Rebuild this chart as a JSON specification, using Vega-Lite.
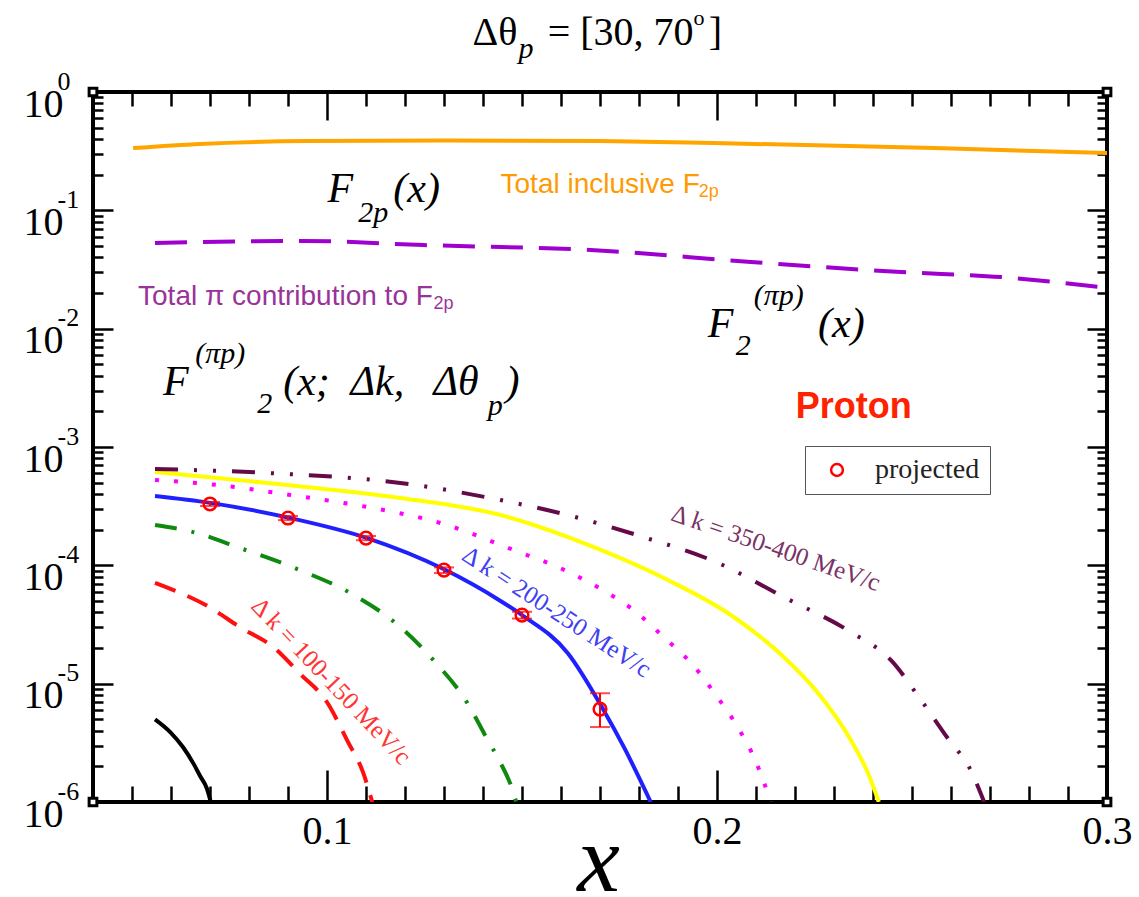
{
  "$schema": "https://vega.github.io/schema/vega-lite/v6.json",
  "width": 1014,
  "height": 710,
  "autosize": {"type": "none"},
  "padding": {"left": 93, "top": 92, "right": 32, "bottom": 95},
  "background": "white",
  "config": {
    "view": {"stroke": "black", "strokeWidth": 4},
    "axis": {"grid": false, "domain": false, "tickColor": "black", "tickWidth": 2.5, "labelColor": "black", "labelOverlap": false, "labelFlush": false, "labelBound": false}
  },
  "resolve": {"axis": {"x": "independent", "y": "independent"}},
  "datasets": {
    "corners": [{"x": 0.04, "y": 0.000001}, {"x": 0.04, "y": 1}, {"x": 0.3, "y": 0.000001}, {"x": 0.3, "y": 1}],
    "orange": [{"x": 0.0503, "y": 0.336}, {"x": 0.0675, "y": 0.364}, {"x": 0.095, "y": 0.385}, {"x": 0.13, "y": 0.39}, {"x": 0.17, "y": 0.385}, {"x": 0.199, "y": 0.371}, {"x": 0.2557, "y": 0.336}, {"x": 0.3, "y": 0.305}],
    "purple": [{"x": 0.0559, "y": 0.053}, {"x": 0.0939, "y": 0.0551}, {"x": 0.1247, "y": 0.0509}, {"x": 0.1676, "y": 0.0462}, {"x": 0.2087, "y": 0.0366}, {"x": 0.2472, "y": 0.0301}, {"x": 0.2729, "y": 0.0273}, {"x": 0.3, "y": 0.0221}],
    "black": [{"x": 0.0559, "y": 5.0e-6}, {"x": 0.0598, "y": 3.9e-6}, {"x": 0.0631, "y": 2.9e-6}, {"x": 0.0658, "y": 2.1e-6}, {"x": 0.0675, "y": 1.65e-6}, {"x": 0.0692, "y": 1.3e-6}, {"x": 0.0702, "y": 1.0e-6}],
    "red": [{"x": 0.0559, "y": 7.1e-5}, {"x": 0.070, "y": 4.4e-5}, {"x": 0.0777, "y": 3.0e-5}, {"x": 0.0862, "y": 2.04e-5}, {"x": 0.0931, "y": 1.21e-5}, {"x": 0.1001, "y": 6.9e-6}, {"x": 0.1052, "y": 3.3e-6}, {"x": 0.1093, "y": 1.76e-6}, {"x": 0.1116, "y": 1.0e-6}],
    "green": [{"x": 0.0559, "y": 2.19e-4}, {"x": 0.0657, "y": 1.91e-4}, {"x": 0.0777, "y": 1.40e-4}, {"x": 0.0931, "y": 9.1e-5}, {"x": 0.106, "y": 5.83e-5}, {"x": 0.1188, "y": 3.01e-5}, {"x": 0.1273, "y": 1.58e-5}, {"x": 0.136, "y": 6.85e-6}, {"x": 0.1412, "y": 3.34e-6}, {"x": 0.1445, "y": 2.14e-6}, {"x": 0.1478, "y": 1.2e-6}, {"x": 0.1485, "y": 1.0e-6}],
    "blue": [{"x": 0.0559, "y": 3.85e-4}, {"x": 0.070, "y": 3.37e-4}, {"x": 0.0906, "y": 2.51e-4}, {"x": 0.1103, "y": 1.70e-4}, {"x": 0.1299, "y": 9.3e-5}, {"x": 0.1445, "y": 5.0e-5}, {"x": 0.150, "y": 3.8e-5}, {"x": 0.1617, "y": 1.82e-5}, {"x": 0.1709, "y": 6.0e-6}, {"x": 0.1761, "y": 2.92e-6}, {"x": 0.183, "y": 1.0e-6}],
    "magenta": [{"x": 0.0559, "y": 5.26e-4}, {"x": 0.0718, "y": 4.78e-4}, {"x": 0.0906, "y": 3.93e-4}, {"x": 0.1103, "y": 3.11e-4}, {"x": 0.1291, "y": 2.28e-4}, {"x": 0.1478, "y": 1.35e-4}, {"x": 0.162, "y": 8.78e-5}, {"x": 0.1707, "y": 6.18e-5}, {"x": 0.1786, "y": 4.19e-5}, {"x": 0.1863, "y": 2.48e-5}, {"x": 0.1938, "y": 1.44e-5}, {"x": 0.1997, "y": 8.02e-6}, {"x": 0.2053, "y": 4.3e-6}, {"x": 0.21, "y": 2.18e-6}, {"x": 0.2138, "y": 1.0e-6}],
    "yellow": [{"x": 0.0559, "y": 6.15e-4}, {"x": 0.0847, "y": 4.97e-4}, {"x": 0.1188, "y": 3.71e-4}, {"x": 0.1445, "y": 2.66e-4}, {"x": 0.1702, "y": 1.35e-4}, {"x": 0.1874, "y": 7.52e-5}, {"x": 0.2043, "y": 3.66e-5}, {"x": 0.2171, "y": 1.68e-5}, {"x": 0.2259, "y": 8.34e-6}, {"x": 0.2343, "y": 3.34e-6}, {"x": 0.2387, "y": 1.76e-6}, {"x": 0.2415, "y": 1.0e-6}],
    "maroon": [{"x": 0.0559, "y": 6.52e-4}, {"x": 0.0847, "y": 6.03e-4}, {"x": 0.1188, "y": 4.97e-4}, {"x": 0.1445, "y": 3.56e-4}, {"x": 0.1617, "y": 2.66e-4}, {"x": 0.1812, "y": 1.73e-4}, {"x": 0.2002, "y": 1.05e-4}, {"x": 0.2171, "y": 5.4e-5}, {"x": 0.2343, "y": 2.73e-5}, {"x": 0.2446, "y": 1.58e-5}, {"x": 0.2523, "y": 7.27e-6}, {"x": 0.2595, "y": 3.34e-6}, {"x": 0.2646, "y": 1.98e-6}, {"x": 0.2685, "y": 1.0e-6}],
    "projected": [
      {"x": 0.07, "y": 3.30e-4, "lo": 3.17e-4, "hi": 3.43e-4, "s": "projected"},
      {"x": 0.09, "y": 2.51e-4, "lo": 2.41e-4, "hi": 2.61e-4, "s": "projected"},
      {"x": 0.11, "y": 1.70e-4, "lo": 1.63e-4, "hi": 1.77e-4, "s": "projected"},
      {"x": 0.13, "y": 9.1e-5, "lo": 8.6e-5, "hi": 9.6e-5, "s": "projected"},
      {"x": 0.15, "y": 3.8e-5, "lo": 3.55e-5, "hi": 4.05e-5, "s": "projected"},
      {"x": 0.17, "y": 6.1e-6, "lo": 4.3e-6, "hi": 8.3e-6, "s": "projected"}
    ],
    "italicBig": [
      {"x": 0.1001, "y": 0.1176, "t": "F"}, {"x": 0.1170, "y": 0.1176, "t": "(x)"},
      {"x": 0.1976, "y": 0.008502, "t": "F"}, {"x": 0.2259, "y": 0.008502, "t": "(x)"},
      {"x": 0.05797, "y": 0.00275, "t": "F"}, {"x": 0.08878, "y": 0.00275, "t": "(x;"}, {"x": 0.1060, "y": 0.00275, "t": "Δk,"}, {"x": 0.1273, "y": 0.00275, "t": "Δθ"}, {"x": 0.1458, "y": 0.00275, "t": ")"}
    ],
    "italicSmall": [
      {"x": 0.1080, "y": 0.0797, "t": "2p"}, {"x": 0.2048, "y": 0.00599, "t": "2"}, {"x": 0.2094, "y": 0.01585, "t": "(πp)"},
      {"x": 0.06619, "y": 0.005126, "t": "(πp)"}, {"x": 0.08211, "y": 0.001938, "t": "2"}, {"x": 0.1412, "y": 0.001864, "t": "p"}
    ],
    "titleMain": [{"x": 0.1373, "y": 2.496, "t": "Δθ"}, {"x": 0.1566, "y": 2.496, "t": "= [30, 70"}, {"x": 0.1979, "y": 2.496, "t": "]"}],
    "titleSub": [{"x": 0.1491, "y": 1.937, "t": "p"}],
    "titleSup": [{"x": 0.1940, "y": 3.683, "t": "o"}],
    "orangeText": [{"x": 0.1445, "y": 0.1401, "t": "Total inclusive F"}],
    "orangeSub": [{"x": 0.1953, "y": 0.1296, "t": "2p"}],
    "purpleText": [{"x": 0.05155, "y": 0.01585, "t": "Total π contribution to F"}],
    "purpleSub": [{"x": 0.1273, "y": 0.01466, "t": "2p"}],
    "proton": [{"x": 0.2202, "y": 0.001758, "t": "Proton"}],
    "labRed": [{"x": 0.1011, "y": 1.052e-5, "t": "Δ k = 100-150 MeV/c"}],
    "labBlue": [{"x": 0.1589, "y": 4.03e-5, "t": "Δ k = 200-250 MeV/c"}],
    "labMaroon": [{"x": 0.2151, "y": 1.40e-4, "t": "Δ k = 350-400 MeV/c"}]
  },
  "layer": [
    {
      "data": {"name": "corners"},
      "mark": {"type": "point", "opacity": 0},
      "encoding": {
        "x": {"field": "x", "type": "quantitative", "scale": {"type": "linear", "domain": [0.04, 0.3], "nice": false, "zero": false},
          "axis": {"orient": "bottom", "values": [0.1, 0.2, 0.3], "ticks": true, "tickSize": -32, "labels": false, "title": null}},
        "y": {"field": "y", "type": "quantitative", "scale": {"type": "log", "domain": [0.000001, 1], "nice": false},
          "axis": {"orient": "left", "values": [0.000001, 0.00001, 0.0001, 0.001, 0.01, 0.1, 1], "ticks": true, "tickSize": -20, "labels": false, "title": null}}
      }
    },
    {
      "data": {"name": "corners"},
      "mark": {"type": "point", "opacity": 0},
      "encoding": {
        "x": {"field": "x", "type": "quantitative", "scale": {"type": "linear", "domain": [0.04, 0.3], "nice": false, "zero": false},
          "axis": {"orient": "bottom", "values": [0.05, 0.06, 0.07, 0.08, 0.09, 0.11, 0.12, 0.13, 0.14, 0.15, 0.16, 0.17, 0.18, 0.19, 0.21, 0.22, 0.23, 0.24, 0.25, 0.26, 0.27, 0.28, 0.29], "ticks": true, "tickSize": -16, "labels": false, "title": null}},
        "y": {"field": "y", "type": "quantitative", "scale": {"type": "log", "domain": [0.000001, 1], "nice": false},
          "axis": {"orient": "left", "values": [2e-6, 3e-6, 4e-6, 5e-6, 6e-6, 7e-6, 8e-6, 9e-6, 2e-5, 3e-5, 4e-5, 5e-5, 6e-5, 7e-5, 8e-5, 9e-5, 2e-4, 3e-4, 4e-4, 5e-4, 6e-4, 7e-4, 8e-4, 9e-4, 0.002, 0.003, 0.004, 0.005, 0.006, 0.007, 0.008, 0.009, 0.02, 0.03, 0.04, 0.05, 0.06, 0.07, 0.08, 0.09, 0.2, 0.3, 0.4, 0.5, 0.6, 0.7, 0.8, 0.9], "ticks": true, "tickSize": -10, "labels": false, "title": null}}
      }
    },
    {
      "data": {"name": "corners"},
      "mark": {"type": "point", "opacity": 0},
      "encoding": {
        "x": {"field": "x", "type": "quantitative", "scale": {"type": "linear", "domain": [0.04, 0.3], "nice": false, "zero": false},
          "axis": {"orient": "top", "values": [0.1, 0.2, 0.3], "ticks": true, "tickSize": -28, "labels": false, "title": null}},
        "y": {"field": "y", "type": "quantitative", "scale": {"type": "log", "domain": [0.000001, 1], "nice": false},
          "axis": {"orient": "right", "values": [0.000001, 0.00001, 0.0001, 0.001, 0.01, 0.1, 1], "ticks": true, "tickSize": -20, "labels": false, "title": null}}
      }
    },
    {
      "data": {"name": "corners"},
      "mark": {"type": "point", "opacity": 0},
      "encoding": {
        "x": {"field": "x", "type": "quantitative", "scale": {"type": "linear", "domain": [0.04, 0.3], "nice": false, "zero": false},
          "axis": {"orient": "top", "values": [0.05, 0.06, 0.07, 0.08, 0.09, 0.11, 0.12, 0.13, 0.14, 0.15, 0.16, 0.17, 0.18, 0.19, 0.21, 0.22, 0.23, 0.24, 0.25, 0.26, 0.27, 0.28, 0.29], "ticks": true, "tickSize": -14, "labels": false, "title": null}},
        "y": {"field": "y", "type": "quantitative", "scale": {"type": "log", "domain": [0.000001, 1], "nice": false},
          "axis": {"orient": "right", "values": [2e-6, 3e-6, 4e-6, 5e-6, 6e-6, 7e-6, 8e-6, 9e-6, 2e-5, 3e-5, 4e-5, 5e-5, 6e-5, 7e-5, 8e-5, 9e-5, 2e-4, 3e-4, 4e-4, 5e-4, 6e-4, 7e-4, 8e-4, 9e-4, 0.002, 0.003, 0.004, 0.005, 0.006, 0.007, 0.008, 0.009, 0.02, 0.03, 0.04, 0.05, 0.06, 0.07, 0.08, 0.09, 0.2, 0.3, 0.4, 0.5, 0.6, 0.7, 0.8, 0.9], "ticks": true, "tickSize": -10, "labels": false, "title": null}}
      }
    },
    {
      "data": {"name": "corners"},
      "mark": {"type": "point", "opacity": 0},
      "encoding": {
        "x": {"field": "x", "type": "quantitative", "scale": {"type": "linear", "domain": [0.04, 0.3], "nice": false, "zero": false},
          "axis": {"orient": "bottom", "values": [0.1, 0.2, 0.3], "ticks": false, "labelExpr": "format(datum.value, '.1f')", "labelFont": "Liberation Serif", "labelFontSize": 40, "labelPadding": 9,
            "title": "x", "titleFont": "Liberation Serif", "titleFontStyle": "italic", "titleFontWeight": "normal", "titleFontSize": 96, "titleColor": "black", "titleX": 505, "titleY": 88, "titleBaseline": "alphabetic", "titleAlign": "center", "titleAnchor": null}},
        "y": {"field": "y", "type": "quantitative", "scale": {"type": "log", "domain": [0.000001, 1], "nice": false},
          "axis": {"orient": "left", "values": [0.000001, 0.00001, 0.0001, 0.001, 0.01, 0.1, 1], "ticks": false, "labelExpr": "datum.value >= 0.5 ? '10' : '10\u2009'", "labelFont": "Liberation Serif", "labelFontSize": 40, "labelPadding": 30, "labelOffset": 12, "labelAlign": "right", "labelBaseline": "middle", "title": null}}
      }
    },
    {
      "data": {"name": "corners"},
      "mark": {"type": "point", "opacity": 0},
      "encoding": {
        "x": {"field": "x", "type": "quantitative", "scale": {"type": "linear", "domain": [0.04, 0.3], "nice": false, "zero": false}, "axis": null},
        "y": {"field": "y", "type": "quantitative", "scale": {"type": "log", "domain": [0.000001, 1], "nice": false},
          "axis": {"orient": "left", "values": [0.000001, 0.00001, 0.0001, 0.001, 0.01, 0.1, 1], "ticks": false, "labelExpr": "datum.value >= 0.5 ? '\u20090' : '-' + round(-log(datum.value) / LN10)", "labelFont": "Liberation Serif", "labelFontSize": 26, "labelPadding": 36, "labelOffset": -11, "labelAlign": "left", "labelBaseline": "middle", "title": null}}
      }
    },
    {
      "data": {"name": "orange"},
      "mark": {"type": "line", "color": "#ffa500", "strokeWidth": 4, "interpolate": "monotone", "clip": true},
      "encoding": {
        "x": {"field": "x", "type": "quantitative", "scale": {"type": "linear", "domain": [0.04, 0.3], "nice": false, "zero": false}, "axis": null},
        "y": {"field": "y", "type": "quantitative", "scale": {"type": "log", "domain": [0.000001, 1], "nice": false}, "axis": null}
      }
    },
    {
      "data": {"name": "purple"},
      "mark": {"type": "line", "color": "#9d00cf", "strokeWidth": 4, "strokeDash": [32, 16], "interpolate": "monotone", "clip": true},
      "encoding": {
        "x": {"field": "x", "type": "quantitative", "scale": {"type": "linear", "domain": [0.04, 0.3], "nice": false, "zero": false}, "axis": null},
        "y": {"field": "y", "type": "quantitative", "scale": {"type": "log", "domain": [0.000001, 1], "nice": false}, "axis": null}
      }
    },
    {
      "data": {"name": "black"},
      "mark": {"type": "line", "color": "black", "strokeWidth": 4, "interpolate": "monotone", "clip": true},
      "encoding": {
        "x": {"field": "x", "type": "quantitative", "scale": {"type": "linear", "domain": [0.04, 0.3], "nice": false, "zero": false}, "axis": null},
        "y": {"field": "y", "type": "quantitative", "scale": {"type": "log", "domain": [0.000001, 1], "nice": false}, "axis": null}
      }
    },
    {
      "data": {"name": "red"},
      "mark": {"type": "line", "color": "#ff1010", "strokeWidth": 4, "strokeDash": [22, 13], "interpolate": "monotone", "clip": true},
      "encoding": {
        "x": {"field": "x", "type": "quantitative", "scale": {"type": "linear", "domain": [0.04, 0.3], "nice": false, "zero": false}, "axis": null},
        "y": {"field": "y", "type": "quantitative", "scale": {"type": "log", "domain": [0.000001, 1], "nice": false}, "axis": null}
      }
    },
    {
      "data": {"name": "green"},
      "mark": {"type": "line", "color": "#0f8a0f", "strokeWidth": 4, "strokeDash": [22, 15, 3, 15], "interpolate": "monotone", "clip": true},
      "encoding": {
        "x": {"field": "x", "type": "quantitative", "scale": {"type": "linear", "domain": [0.04, 0.3], "nice": false, "zero": false}, "axis": null},
        "y": {"field": "y", "type": "quantitative", "scale": {"type": "log", "domain": [0.000001, 1], "nice": false}, "axis": null}
      }
    },
    {
      "data": {"name": "yellow"},
      "mark": {"type": "line", "color": "#ffff00", "strokeWidth": 4, "interpolate": "monotone", "clip": true},
      "encoding": {
        "x": {"field": "x", "type": "quantitative", "scale": {"type": "linear", "domain": [0.04, 0.3], "nice": false, "zero": false}, "axis": null},
        "y": {"field": "y", "type": "quantitative", "scale": {"type": "log", "domain": [0.000001, 1], "nice": false}, "axis": null}
      }
    },
    {
      "data": {"name": "magenta"},
      "mark": {"type": "line", "color": "#ff00ff", "strokeWidth": 4, "strokeDash": [4, 15], "interpolate": "monotone", "clip": true},
      "encoding": {
        "x": {"field": "x", "type": "quantitative", "scale": {"type": "linear", "domain": [0.04, 0.3], "nice": false, "zero": false}, "axis": null},
        "y": {"field": "y", "type": "quantitative", "scale": {"type": "log", "domain": [0.000001, 1], "nice": false}, "axis": null}
      }
    },
    {
      "data": {"name": "maroon"},
      "mark": {"type": "line", "color": "#650a48", "strokeWidth": 4, "strokeDash": [23, 16, 3, 16, 3, 16], "interpolate": "monotone", "clip": true},
      "encoding": {
        "x": {"field": "x", "type": "quantitative", "scale": {"type": "linear", "domain": [0.04, 0.3], "nice": false, "zero": false}, "axis": null},
        "y": {"field": "y", "type": "quantitative", "scale": {"type": "log", "domain": [0.000001, 1], "nice": false}, "axis": null}
      }
    },
    {
      "data": {"name": "blue"},
      "mark": {"type": "line", "color": "#2020ff", "strokeWidth": 4, "interpolate": "monotone", "clip": true},
      "encoding": {
        "x": {"field": "x", "type": "quantitative", "scale": {"type": "linear", "domain": [0.04, 0.3], "nice": false, "zero": false}, "axis": null},
        "y": {"field": "y", "type": "quantitative", "scale": {"type": "log", "domain": [0.000001, 1], "nice": false}, "axis": null}
      }
    },
    {
      "data": {"name": "projected"},
      "mark": {"type": "rule", "color": "#ff0000", "strokeWidth": 2},
      "encoding": {
        "x": {"field": "x", "type": "quantitative", "scale": {"type": "linear", "domain": [0.04, 0.3], "nice": false, "zero": false}, "axis": null},
        "y": {"field": "lo", "type": "quantitative", "scale": {"type": "log", "domain": [0.000001, 1], "nice": false}, "axis": null},
        "y2": {"field": "hi"}
      }
    },
    {
      "data": {"name": "projected"},
      "mark": {"type": "tick", "orient": "horizontal", "color": "#ff0000", "size": 20, "thickness": 2},
      "encoding": {
        "x": {"field": "x", "type": "quantitative", "scale": {"type": "linear", "domain": [0.04, 0.3], "nice": false, "zero": false}, "axis": null},
        "y": {"field": "lo", "type": "quantitative", "scale": {"type": "log", "domain": [0.000001, 1], "nice": false}, "axis": null}
      }
    },
    {
      "data": {"name": "projected"},
      "mark": {"type": "tick", "orient": "horizontal", "color": "#ff0000", "size": 20, "thickness": 2},
      "encoding": {
        "x": {"field": "x", "type": "quantitative", "scale": {"type": "linear", "domain": [0.04, 0.3], "nice": false, "zero": false}, "axis": null},
        "y": {"field": "hi", "type": "quantitative", "scale": {"type": "log", "domain": [0.000001, 1], "nice": false}, "axis": null}
      }
    },
    {
      "data": {"name": "projected"},
      "mark": {"type": "point", "shape": "circle", "filled": false, "size": 160, "strokeWidth": 2.5, "opacity": 1},
      "encoding": {
        "x": {"field": "x", "type": "quantitative", "scale": {"type": "linear", "domain": [0.04, 0.3], "nice": false, "zero": false}, "axis": null},
        "y": {"field": "y", "type": "quantitative", "scale": {"type": "log", "domain": [0.000001, 1], "nice": false}, "axis": null},
        "color": {"field": "s", "type": "nominal", "scale": {"range": ["#ff0000"]},
          "legend": {"orient": "none", "legendX": 712, "legendY": 354, "title": null, "labelFont": "Liberation Serif", "labelFontSize": 28, "labelColor": "#222222", "strokeColor": "#555555", "fillColor": "white", "padding": 10, "symbolOffset": 8, "labelOffset": 24, "symbolSize": 140, "symbolStrokeWidth": 2.5, "symbolType": "circle"}}
      }
    },
    {
      "data": {"name": "corners"},
      "mark": {"type": "point", "shape": "square", "size": 60, "filled": true, "fill": "white", "stroke": "black", "strokeWidth": 3, "opacity": 1},
      "encoding": {
        "x": {"field": "x", "type": "quantitative", "scale": {"type": "linear", "domain": [0.04, 0.3], "nice": false, "zero": false}, "axis": null},
        "y": {"field": "y", "type": "quantitative", "scale": {"type": "log", "domain": [0.000001, 1], "nice": false}, "axis": null}
      }
    },
    {
      "data": {"name": "italicBig"},
      "mark": {"type": "text", "font": "Liberation Serif", "fontStyle": "italic", "fontSize": 42, "color": "black", "align": "left", "baseline": "alphabetic"},
      "encoding": {
        "x": {"field": "x", "type": "quantitative", "scale": {"type": "linear", "domain": [0.04, 0.3], "nice": false, "zero": false}, "axis": null},
        "y": {"field": "y", "type": "quantitative", "scale": {"type": "log", "domain": [0.000001, 1], "nice": false}, "axis": null},
        "text": {"field": "t"}
      }
    },
    {
      "data": {"name": "italicSmall"},
      "mark": {"type": "text", "font": "Liberation Serif", "fontStyle": "italic", "fontSize": 30, "color": "black", "align": "left", "baseline": "alphabetic"},
      "encoding": {
        "x": {"field": "x", "type": "quantitative", "scale": {"type": "linear", "domain": [0.04, 0.3], "nice": false, "zero": false}, "axis": null},
        "y": {"field": "y", "type": "quantitative", "scale": {"type": "log", "domain": [0.000001, 1], "nice": false}, "axis": null},
        "text": {"field": "t"}
      }
    },
    {
      "data": {"name": "titleMain"},
      "mark": {"type": "text", "font": "Liberation Serif", "fontSize": 40, "color": "black", "align": "left", "baseline": "alphabetic"},
      "encoding": {
        "x": {"field": "x", "type": "quantitative", "scale": {"type": "linear", "domain": [0.04, 0.3], "nice": false, "zero": false}, "axis": null},
        "y": {"field": "y", "type": "quantitative", "scale": {"type": "log", "domain": [0.000001, 1], "nice": false}, "axis": null},
        "text": {"field": "t"}
      }
    },
    {
      "data": {"name": "titleSub"},
      "mark": {"type": "text", "font": "Liberation Serif", "fontStyle": "italic", "fontSize": 30, "color": "black", "align": "left", "baseline": "alphabetic"},
      "encoding": {
        "x": {"field": "x", "type": "quantitative", "scale": {"type": "linear", "domain": [0.04, 0.3], "nice": false, "zero": false}, "axis": null},
        "y": {"field": "y", "type": "quantitative", "scale": {"type": "log", "domain": [0.000001, 1], "nice": false}, "axis": null},
        "text": {"field": "t"}
      }
    },
    {
      "data": {"name": "titleSup"},
      "mark": {"type": "text", "font": "Liberation Serif", "fontSize": 22, "color": "black", "align": "left", "baseline": "alphabetic"},
      "encoding": {
        "x": {"field": "x", "type": "quantitative", "scale": {"type": "linear", "domain": [0.04, 0.3], "nice": false, "zero": false}, "axis": null},
        "y": {"field": "y", "type": "quantitative", "scale": {"type": "log", "domain": [0.000001, 1], "nice": false}, "axis": null},
        "text": {"field": "t"}
      }
    },
    {
      "data": {"name": "orangeText"},
      "mark": {"type": "text", "font": "Liberation Sans", "fontSize": 28, "color": "#ff9a00", "align": "left", "baseline": "alphabetic"},
      "encoding": {
        "x": {"field": "x", "type": "quantitative", "scale": {"type": "linear", "domain": [0.04, 0.3], "nice": false, "zero": false}, "axis": null},
        "y": {"field": "y", "type": "quantitative", "scale": {"type": "log", "domain": [0.000001, 1], "nice": false}, "axis": null},
        "text": {"field": "t"}
      }
    },
    {
      "data": {"name": "orangeSub"},
      "mark": {"type": "text", "font": "Liberation Sans", "fontSize": 18, "color": "#ff9a00", "align": "left", "baseline": "alphabetic"},
      "encoding": {
        "x": {"field": "x", "type": "quantitative", "scale": {"type": "linear", "domain": [0.04, 0.3], "nice": false, "zero": false}, "axis": null},
        "y": {"field": "y", "type": "quantitative", "scale": {"type": "log", "domain": [0.000001, 1], "nice": false}, "axis": null},
        "text": {"field": "t"}
      }
    },
    {
      "data": {"name": "purpleText"},
      "mark": {"type": "text", "font": "Liberation Sans", "fontSize": 28, "color": "#993399", "align": "left", "baseline": "alphabetic"},
      "encoding": {
        "x": {"field": "x", "type": "quantitative", "scale": {"type": "linear", "domain": [0.04, 0.3], "nice": false, "zero": false}, "axis": null},
        "y": {"field": "y", "type": "quantitative", "scale": {"type": "log", "domain": [0.000001, 1], "nice": false}, "axis": null},
        "text": {"field": "t"}
      }
    },
    {
      "data": {"name": "purpleSub"},
      "mark": {"type": "text", "font": "Liberation Sans", "fontSize": 18, "color": "#993399", "align": "left", "baseline": "alphabetic"},
      "encoding": {
        "x": {"field": "x", "type": "quantitative", "scale": {"type": "linear", "domain": [0.04, 0.3], "nice": false, "zero": false}, "axis": null},
        "y": {"field": "y", "type": "quantitative", "scale": {"type": "log", "domain": [0.000001, 1], "nice": false}, "axis": null},
        "text": {"field": "t"}
      }
    },
    {
      "data": {"name": "proton"},
      "mark": {"type": "text", "font": "Liberation Sans", "fontWeight": "bold", "fontSize": 36, "color": "#ff2200", "align": "left", "baseline": "alphabetic"},
      "encoding": {
        "x": {"field": "x", "type": "quantitative", "scale": {"type": "linear", "domain": [0.04, 0.3], "nice": false, "zero": false}, "axis": null},
        "y": {"field": "y", "type": "quantitative", "scale": {"type": "log", "domain": [0.000001, 1], "nice": false}, "axis": null},
        "text": {"field": "t"}
      }
    },
    {
      "data": {"name": "labRed"},
      "mark": {"type": "text", "font": "Liberation Serif", "fontSize": 25, "color": "#ff3535", "align": "center", "baseline": "middle", "angle": 46.5},
      "encoding": {
        "x": {"field": "x", "type": "quantitative", "scale": {"type": "linear", "domain": [0.04, 0.3], "nice": false, "zero": false}, "axis": null},
        "y": {"field": "y", "type": "quantitative", "scale": {"type": "log", "domain": [0.000001, 1], "nice": false}, "axis": null},
        "text": {"field": "t"}
      }
    },
    {
      "data": {"name": "labBlue"},
      "mark": {"type": "text", "font": "Liberation Serif", "fontSize": 25, "color": "#4040f0", "align": "center", "baseline": "middle", "angle": 33},
      "encoding": {
        "x": {"field": "x", "type": "quantitative", "scale": {"type": "linear", "domain": [0.04, 0.3], "nice": false, "zero": false}, "axis": null},
        "y": {"field": "y", "type": "quantitative", "scale": {"type": "log", "domain": [0.000001, 1], "nice": false}, "axis": null},
        "text": {"field": "t"}
      }
    },
    {
      "data": {"name": "labMaroon"},
      "mark": {"type": "text", "font": "Liberation Serif", "fontSize": 25, "color": "#7a3366", "align": "center", "baseline": "middle", "angle": 19},
      "encoding": {
        "x": {"field": "x", "type": "quantitative", "scale": {"type": "linear", "domain": [0.04, 0.3], "nice": false, "zero": false}, "axis": null},
        "y": {"field": "y", "type": "quantitative", "scale": {"type": "log", "domain": [0.000001, 1], "nice": false}, "axis": null},
        "text": {"field": "t"}
      }
    }
  ]
}
